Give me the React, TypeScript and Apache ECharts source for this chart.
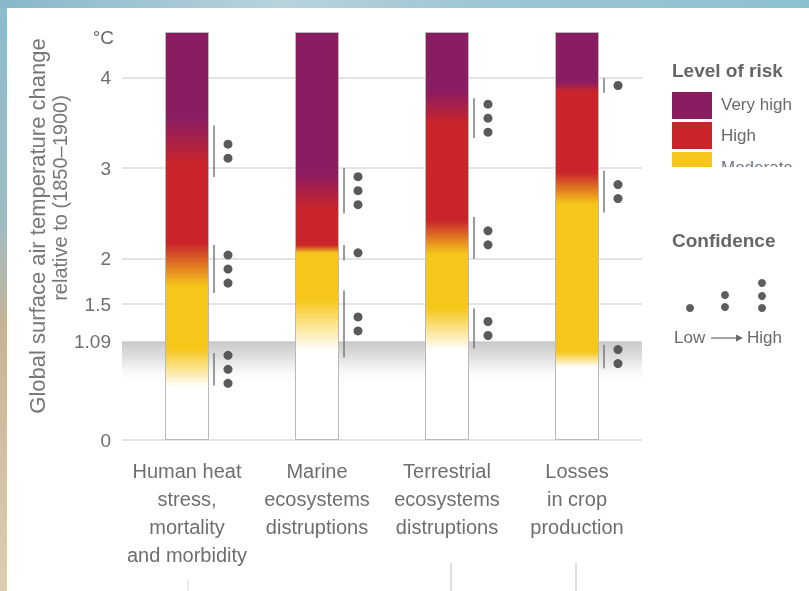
import React, { useEffect, useRef } from "react";
import * as echarts from "echarts";

// ---------- data ----------
const categories = [
  "Human heat\nstress,\nmortality\nand morbidity",
  "Marine\necosystems\ndistruptions",
  "Terrestrial\necosystems\ndistruptions",
  "Losses\nin crop\nproduction",
];
const barTop = [4.5, 4.5, 4.5, 4.5];
// risk transitions (°C) per category
const whiteUntil = [0.58, 0.99, 0.99, 0.8];
const moderateFrom = [1.0, 1.55, 1.45, 0.97];
const moderateUntil = [1.69, 2.06, 2.05, 2.6];
const highFrom = [2.17, 2.15, 2.42, 2.95];
const highUntil = [3.05, 2.55, 3.5, 3.85];
const veryHighFrom = [3.56, 2.95, 3.85, 3.95];

const yTickValues = [0, 1.09, 1.5, 2, 3, 4];
const gridLineValues = [0, 1.5, 2, 3, 4];
const observedWarming = 1.09;
const bandBottom = 0.6;

// confidence assessments of transitions
const confCategory = [0, 0, 0, 1, 1, 1, 2, 2, 2, 3, 3, 3];
const confLow = [2.9, 1.62, 0.6, 2.5, 1.98, 0.91, 3.33, 2.0, 1.01, 3.83, 2.51, 0.79];
const confHigh = [3.47, 2.15, 0.96, 3.0, 2.15, 1.65, 3.77, 2.46, 1.45, 3.99, 2.97, 1.05];
const confDots = [2, 3, 3, 3, 1, 2, 3, 2, 2, 1, 2, 2];

const legendRisk = ["Very high", "High", "Moderate"];

// ---------- styles ----------
const FONT = "'Liberation Sans', Arial, sans-serif";
const PURPLE = "#8a1c62";
const RED = "#c9252b";
const YELLOW = "#f6c71a";
const TXT = "#6e6e6e";

export default function App() {
  const ref = useRef<HTMLDivElement>(null);

  useEffect(() => {
    if (!ref.current) return;
    const chart = echarts.init(ref.current, null, { renderer: "svg" });
    const top = 4.5;

    const barData = barTop.map((v, i) => ({
      value: v,
      itemStyle: {
        color: new echarts.graphic.LinearGradient(0, 1, 0, 0, [
          { offset: 0, color: "#ffffff" },
          { offset: whiteUntil[i] / top, color: "#ffffff" },
          { offset: moderateFrom[i] / top, color: YELLOW },
          { offset: moderateUntil[i] / top, color: YELLOW },
          { offset: highFrom[i] / top, color: RED },
          { offset: highUntil[i] / top, color: RED },
          { offset: veryHighFrom[i] / top, color: PURPLE },
          { offset: 1, color: PURPLE },
        ]),
      },
    }));

    const confData = confCategory.map((c, i) => [c, confLow[i], confHigh[i], confDots[i]]);

    const graphic: any[] = [
      // photo frame background
      {
        type: "rect", z: -20, shape: { x: 0, y: 0, width: 809, height: 591 },
        style: {
          fill: new echarts.graphic.LinearGradient(0, 0, 0, 1, [
            { offset: 0, color: "#8cbccc" },
            { offset: 0.38, color: "#9fbcc2" },
            { offset: 0.55, color: "#c7b497" },
            { offset: 1, color: "#dccdb5" },
          ]),
        },
      },
      {
        type: "rect", z: -19, shape: { x: 0, y: 0, width: 809, height: 8 },
        style: {
          fill: new echarts.graphic.LinearGradient(0, 0, 1, 0, [
            { offset: 0, color: "#86b8c9" },
            { offset: 0.35, color: "#b7d3dc" },
            { offset: 0.6, color: "#9cc6d3" },
            { offset: 1, color: "#8cc0d0" },
          ]),
        },
      },
      { type: "rect", z: -18, shape: { x: 7, y: 8, width: 802, height: 583 }, style: { fill: "#ffffff" } },
      // axis title
      {
        type: "text", x: 37, y: 226, rotation: Math.PI / 2,
        style: { text: "Global surface air temperature change", fontSize: 22, fill: "#777", align: "center", verticalAlign: "middle", fontFamily: FONT },
      },
      {
        type: "text", x: 60, y: 198, rotation: Math.PI / 2,
        style: { text: "relative to (1850–1900)", fontSize: 20, fill: "#777", align: "center", verticalAlign: "middle", fontFamily: FONT },
      },
      {
        type: "text", x: 114, y: 37,
        style: { text: "°C", fontSize: 19, fill: "#666", align: "right", verticalAlign: "middle", fontFamily: FONT },
      },
      // legend: level of risk
      {
        type: "text", x: 672, y: 70,
        style: { text: "Level of risk", fontSize: 19, fontWeight: "bold", fill: "#666", align: "left", verticalAlign: "middle", fontFamily: FONT },
      },
      { type: "rect", shape: { x: 672, y: 92, width: 40, height: 27 }, style: { fill: PURPLE } },
      { type: "rect", shape: { x: 672, y: 122, width: 40, height: 27 }, style: { fill: RED } },
      { type: "rect", shape: { x: 672, y: 152, width: 40, height: 15 }, style: { fill: YELLOW } },
      {
        type: "text", x: 721, y: 104,
        style: { text: legendRisk[0], fontSize: 17, fill: "#6a6a6a", align: "left", verticalAlign: "middle", fontFamily: FONT },
      },
      {
        type: "text", x: 721, y: 135,
        style: { text: legendRisk[1], fontSize: 17, fill: "#6a6a6a", align: "left", verticalAlign: "middle", fontFamily: FONT },
      },
      {
        type: "text", x: 721, y: 167,
        style: { text: legendRisk[2], fontSize: 17, fill: "#707888", align: "left", verticalAlign: "middle", fontFamily: FONT },
      },
      { type: "rect", z: 5, shape: { x: 660, y: 167, width: 149, height: 16 }, style: { fill: "#ffffff" } },
      // legend: confidence
      {
        type: "text", x: 672, y: 240,
        style: { text: "Confidence", fontSize: 19, fontWeight: "bold", fill: "#666", align: "left", verticalAlign: "middle", fontFamily: FONT },
      },
      { type: "circle", shape: { cx: 690, cy: 308, r: 4 }, style: { fill: "#5e5e5e" } },
      { type: "circle", shape: { cx: 725, cy: 295, r: 4 }, style: { fill: "#5e5e5e" } },
      { type: "circle", shape: { cx: 725, cy: 307, r: 4 }, style: { fill: "#5e5e5e" } },
      { type: "circle", shape: { cx: 762, cy: 283, r: 4 }, style: { fill: "#5e5e5e" } },
      { type: "circle", shape: { cx: 762, cy: 296, r: 4 }, style: { fill: "#5e5e5e" } },
      { type: "circle", shape: { cx: 762, cy: 308, r: 4 }, style: { fill: "#5e5e5e" } },
      {
        type: "text", x: 674, y: 337,
        style: { text: "Low", fontSize: 17, fill: "#6a6a6a", align: "left", verticalAlign: "middle", fontFamily: FONT },
      },
      { type: "line", shape: { x1: 711, y1: 338, x2: 738, y2: 338 }, style: { stroke: "#6a6a6a", lineWidth: 1.2 } },
      { type: "polygon", shape: { points: [[736, 334.5], [743, 338], [736, 341.5]] }, style: { fill: "#6a6a6a" } },
      {
        type: "text", x: 747, y: 337,
        style: { text: "High", fontSize: 17, fill: "#6a6a6a", align: "left", verticalAlign: "middle", fontFamily: FONT },
      },
      // slide artifacts at the bottom
      { type: "line", shape: { x1: 451, y1: 563, x2: 451, y2: 591 }, style: { stroke: "#c8c8c8", lineWidth: 1.2 } },
      { type: "line", shape: { x1: 576, y1: 563, x2: 576, y2: 591 }, style: { stroke: "#c8c8c8", lineWidth: 1.2 } },
      { type: "line", shape: { x1: 188, y1: 580, x2: 188, y2: 591 }, style: { stroke: "#dddddd", lineWidth: 1.2 } },
    ];

    chart.setOption({
      animation: false,
      grid: { left: 122, right: 167, top: 32, bottom: 151, containLabel: false, outerBoundsMode: "none" },
      xAxis: {
        type: "category",
        data: categories,
        axisLine: { show: false },
        axisTick: { show: false },
        splitLine: { show: false },
        axisLabel: { interval: 0, color: TXT, fontSize: 20, lineHeight: 28, margin: 17, fontFamily: FONT },
      },
      yAxis: {
        type: "value",
        min: 0,
        max: 4.5,
        splitLine: { show: false },
        axisLine: { show: false },
        axisTick: { show: false },
        axisLabel: {
          customValues: yTickValues,
          color: TXT,
          fontSize: 19,
          margin: 11,
          fontFamily: FONT,
          formatter: (v: number) => String(v),
        },
      },
      graphic,
      series: [
        {
          type: "line",
          z: 1,
          data: [],
          silent: true,
          markLine: {
            silent: true,
            z: 1,
            symbol: "none",
            label: { show: false },
            lineStyle: { color: "#dadada", width: 1.5, type: "solid" },
            data: gridLineValues.map((v) => ({ yAxis: v })),
          },
          markArea: {
            silent: true,
            z: 0.5,
            itemStyle: {
              color: new echarts.graphic.LinearGradient(0, 0, 0, 1, [
                { offset: 0, color: "#c9c9c9" },
                { offset: 0.4, color: "#e2e2e2" },
                { offset: 1, color: "rgba(255,255,255,0)" },
              ]),
            },
            data: [[{ yAxis: observedWarming }, { yAxis: bandBottom }]],
          },
        },
        {
          type: "bar",
          z: 2,
          barWidth: 44,
          data: barData,
          itemStyle: { borderColor: "#b9b9b9", borderWidth: 1 },
        },
        {
          type: "custom",
          z: 3,
          data: confData,
          encode: { x: 0, y: [1, 2] },
          renderItem: (_params: any, api: any) => {
            const cat = api.value(0);
            const lo = api.coord([cat, api.value(1)]);
            const hi = api.coord([cat, api.value(2)]);
            const n = api.value(3);
            const lineX = lo[0] + 27;
            const dotX = lo[0] + 41;
            const midY = (lo[1] + hi[1]) / 2;
            const children: any[] = [
              {
                type: "line",
                shape: { x1: lineX, y1: hi[1], x2: lineX, y2: lo[1] },
                style: { stroke: "#7a7a7a", lineWidth: 1.5 },
              },
            ];
            for (let k = 0; k < n; k++) {
              children.push({
                type: "circle",
                shape: { cx: dotX, cy: midY + (k - (n - 1) / 2) * 14, r: 4.5 },
                style: { fill: "#5a5a5a" },
              });
            }
            return { type: "group", children };
          },
        },
      ],
    });

    return () => chart.dispose();
  }, []);

  return (
    <div
      ref={ref}
      style={{ position: "fixed", left: 0, top: 0, width: 809, height: 591 }}
    />
  );
}
